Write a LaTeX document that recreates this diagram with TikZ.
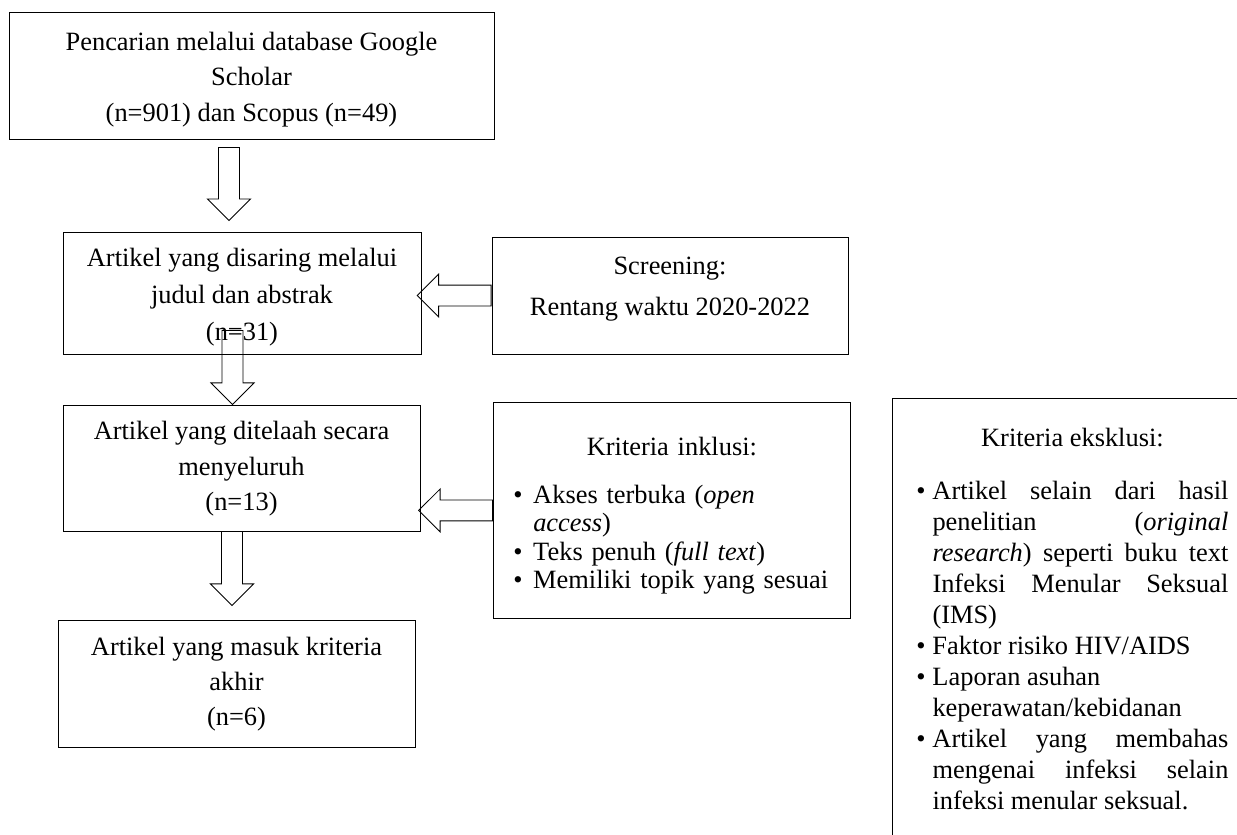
\documentclass[tikz,border=0pt]{standalone}
\usepackage{fontspec}
\setmainfont{Liberation Serif}
\usetikzlibrary{shapes.arrows}

\tikzset{
  kotak/.style={draw, thin, align=center, inner sep=0pt},
  daftar/.style={draw, thin, anchor=north west, inner xsep=9.1pt, inner ysep=11pt},
  panah/.style={single arrow, draw, thin, inner sep=4.55pt, anchor=tail,
    minimum width=19.1pt, single arrow head extend=5pt}
}

%Aufzaehlungspunkt mit haengendem Einzug
\newcommand{\butir}[1]{\par\noindent\hangindent=#1\hangafter=1\makebox[#1][l]{\textbullet}}

\begin{document}
\begin{tikzpicture}
    [
    x=0.4545pt, y=-0.4545pt, font=\fontsize{12}{16}\selectfont
    %1 Einheit = 1 Pixel der Vorlage
    ]

    %Rahmen
    \useasboundingbox (0,0) rectangle (1237,834);

    %Kaesten links
    \node[kotak, minimum width=220.4pt, minimum height=57.7pt]
    (srch) at (251.5,75.5) {\rule{0pt}{12pt}Pencarian melalui database Google\\ Scholar\\ (n=901) dan Scopus (n=49)};
    \node[kotak, minimum width=162.7pt, minimum height=55.4pt, font=\fontsize{12}{16.8}\selectfont]
    (sarng) at (242,293) {\rule{0pt}{12pt}Artikel yang disaring melalui\\ judul dan abstrak\\ (n=31)};
    \node[kotak, minimum width=162.3pt, minimum height=57.3pt]
    (telaah) at (241.5,468) {\rule{0pt}{9pt}Artikel yang ditelaah secara\\ menyeluruh\\ (n=13)};
    \node[kotak, minimum width=162.3pt, minimum height=57.7pt]
    (akhir) at (236.5,683.5) {\rule{0pt}{9pt}Artikel yang masuk kriteria\\ akhir\\ (n=6)};

    %Kaesten rechts
    \node[kotak, minimum width=161.8pt, minimum height=53.2pt]
    (scrn) at (670,295.5) {Screening:\\[2.6pt] Rentang waktu 2020-2022\rule[-8pt]{0pt}{8pt}};
    \node[daftar, text width=144pt, align=left, font=\fontsize{12}{12.9}\selectfont]
    (inkl) at (493,402) {{\centering Kriteria inklusi:\rule{0pt}{13.1pt}\par}\vspace{8.9pt}
      \butir{9pt}Akses terbuka (\textit{open}\newline \textit{access})
      \butir{9pt}Teks penuh (\textit{full text})
      \butir{9pt}Memiliki topik yang sesuai\par};
    \node[daftar, text width=141.8pt, inner xsep=10.9pt, align=justify, font=\fontsize{12}{14.1}\selectfont]
    (ekskl) at (892,398) {{\centering Kriteria eksklusi:\rule{0pt}{10.8pt}\par}\vspace{10pt}
      \butir{7.3pt}Artikel selain dari hasil\linebreak penelitian (\textit{original}\linebreak
      \textit{research}) seperti buku text\linebreak Infeksi Menular Seksual\linebreak (IMS)
      \butir{7.3pt}Faktor risiko HIV/AIDS
      \butir{7.3pt}Laporan asuhan\newline keperawatan/kebidanan
      \butir{7.3pt}Artikel yang membahas\linebreak mengenai infeksi selain\linebreak
      infeksi menular seksual.\rule[-12pt]{0pt}{12pt}\par};

    %Blockpfeile
    \node[panah, minimum height=33.2pt, shape border rotate=270] (p1) at (229,147) {};
    \node[panah, minimum height=33.6pt, shape border rotate=270] (p2) at (232.5,330) {};
    \node[panah, minimum height=33.6pt, shape border rotate=270] (p3) at (232,531) {};
    \node[panah, minimum height=33.6pt, shape border rotate=180] (p4) at (scrn.west) {};
    \node[panah, minimum height=33.6pt, shape border rotate=180] (p5) at (inkl.west) {};
\end{tikzpicture}
\end{document}
